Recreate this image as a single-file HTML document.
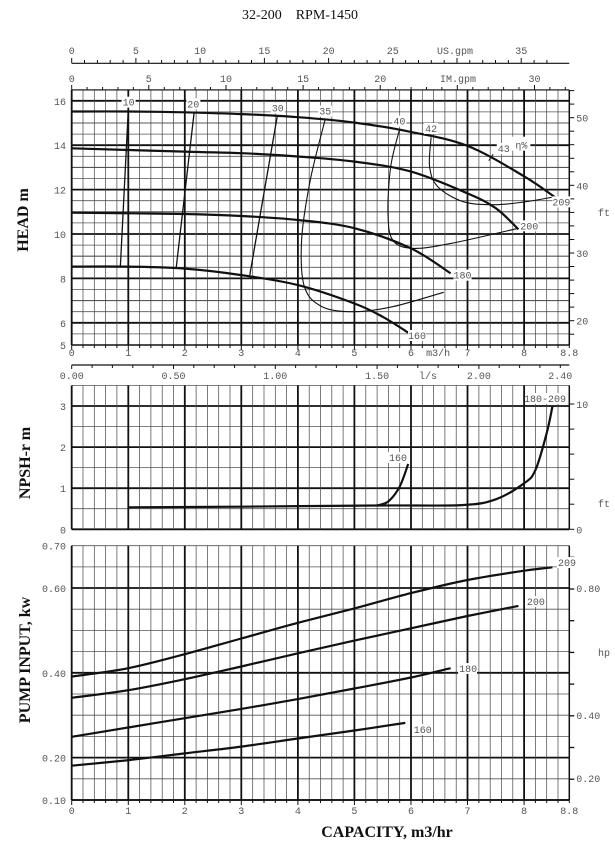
<!DOCTYPE html>
<html><head><meta charset="utf-8"><style>
html,body{margin:0;padding:0;background:#fff;}
svg{display:block;}
.t{font-family:"Liberation Mono",monospace;font-size:10px;fill:#555;}
.b{font-family:"Liberation Serif",serif;font-weight:bold;fill:#111;}
</style></head><body>
<svg id="s" width="615" height="852" viewBox="0 0 615 852" xmlns="http://www.w3.org/2000/svg">
<text x="300" y="19" text-anchor="middle" font-family="Liberation Serif,serif" font-size="14" fill="#111">32-200&#160;&#160;&#160;&#160;RPM-1450</text>
<text class="b" font-size="16" transform="translate(28,220) rotate(-90)" text-anchor="middle">HEAD m</text>
<text class="b" font-size="16" transform="translate(30,463) rotate(-90)" text-anchor="middle">NPSH-r m</text>
<text class="b" font-size="16" transform="translate(30,660) rotate(-90)" text-anchor="middle">PUMP INPUT, kw</text>
<text class="b" font-size="16" x="387" y="837" text-anchor="middle" font-weight="bold">CAPACITY, m3/hr</text>
<g id="g"></g>
</svg>
<script>
var G=document.getElementById('g'),h='';
var X0=71.7,XK=56.55,XR=569.3;
function X(q){return X0+XK*q;}
function YH(v){return 345-(v-5)*22.2;}
function YN(v){return 529.3-v*41.1;}
function YP(v){return 800-(v-0.1)*423.9;}
function L(x1,y1,x2,y2,w,c){h+='<line x1="'+x1.toFixed(1)+'" y1="'+y1.toFixed(1)+'" x2="'+x2.toFixed(1)+'" y2="'+y2.toFixed(1)+'" stroke="'+(c||'#111')+'" stroke-width="'+w+'"/>';}
function T(x,y,s,a,cl){h+='<text class="'+(cl||'t')+'" x="'+x.toFixed(1)+'" y="'+y.toFixed(1)+'" text-anchor="'+(a||'middle')+'">'+s+'</text>';}
function P(pts,w,fx,fy){var d='';var p=pts.map(function(a){return [fx?X(a[0]):a[0],fy?fy(a[1]):a[1]];});
 d='M'+p[0][0].toFixed(1)+','+p[0][1].toFixed(1);
 for(var i=0;i<p.length-1;i++){var p0=p[i-1]||p[i],p1=p[i],p2=p[i+1],p3=p[i+2]||p2;
  d+=' C'+(p1[0]+(p2[0]-p0[0])/6).toFixed(1)+','+(p1[1]+(p2[1]-p0[1])/6).toFixed(1)+' '+(p2[0]-(p3[0]-p1[0])/6).toFixed(1)+','+(p2[1]-(p3[1]-p1[1])/6).toFixed(1)+' '+p2[0].toFixed(1)+','+p2[1].toFixed(1);}
 h+='<path d="'+d+'" fill="none" stroke="#111" stroke-width="'+w+'"/>';}
function vgrid(yt,yb){for(var i=0;i<=44;i++){var q=i*0.2;var maj=i%5==0;L(X(q),yt,X(q),yb,maj?1.8:0.7,maj?'#111':'#444');}}
function ZX(zx){return 71.7+(zx-182)*0.3924;} function ZY(zy){return 40+zy/3;}
function Z(arr){return arr.map(function(a){return [ZX(a[0]),ZY(a[1])];});}
// ---- top axes
L(X0,63.3,XR,63.3,1.2);
for(var g=0;g<=37;g++){var x=X(g/4.403);L(x,63.3,x,g%5==0?58:60,1);if(g%5==0&&g<=35&&g!=30)T(x,54,g);}
T(455,54,'US.gpm');
for(var g=0;g<=32;g++){var x=X(g/3.666);L(x,90,x,g%5==0?85:87,1);if(g%5==0&&g!=25)T(x,82,g);}
T(458,82,'IM.gpm');
// ---- head panel
for(var v=5;v<=16.5;v+=0.5){var maj=(v%2==0);var mid=(v%1==0);L(X0,YH(v),XR,YH(v),maj?1.8:(mid?1.1:0.8),maj?'#111':'#555');}
vgrid(90,345);
L(X0,90,X0,345,1.5);L(XR,90,XR,345,1.5);L(X0,345,XR,345,1.5);L(X0,90,XR,90,1);
[5,6,8,10,12,14,16].forEach(function(v){T(66,YH(v)+4,v,'end');});
for(var f=16;f<=54;f+=2){var y=345-(f*0.3048-5)*22.2;if(y>=90&&y<=345){L(XR,y,XR+5,y,1);if(f%10==0)T(XR+7,y+4,f,'start');}}
T(598,216,'ft','start');
for(var i=0;i<=44;i++){L(X(i*0.2),345,X(i*0.2),i%5==0?350:348,1);}
[0,1,2,3,4,5,6,7,8].forEach(function(v){T(X(v),356,v);});T(X(8.8),356,'8.8');T(X(6.48),356,'m3/h');
P([[0,15.52],[1,15.52],[2,15.48],[3,15.4],[4,15.26],[5,15.02],[6,14.6],[7,13.97],[8,12.6],[8.55,11.65]],2.2,1,YH);
P([[0,13.86],[2,13.71],[3,13.64],[4,13.49],[5,13.26],[6,12.81],[7,11.83],[7.5,11.16],[7.9,10.21]],2.2,1,YH);
P([[0,10.96],[2,10.9],[3,10.81],[4,10.63],[5,10.26],[6,9.35],[6.7,8.23]],2.2,1,YH);
P([[0,8.53],[1,8.53],[2,8.44],[3,8.15],[4,7.7],[5,6.87],[5.5,6.27],[5.95,5.56]],2.2,1,YH);
P(Z([[326,215],[306,678]]),1.3);
P(Z([[494,218],[448,686]]),1.3);
P(Z([[706,228],[636,705]]),1.3);
P(Z([[828,238],[790,420],[768,600],[775,740],[820,800],[900,815],[1000,800],[1130,757]]),1.1);
P(Z([[1017,270],[995,380],[988,520],[1000,600],[1050,625],[1150,610],[1320,565]]),1.1);
P(Z([[1098,292],[1094,380],[1115,440],[1180,485],[1260,494],[1340,485],[1405,472]]),1.1);
P(Z([[1245,362],[1256,343]]),1.1);
h+='<rect x="'+ZX(1300).toFixed(1)+'" y="'+ZY(290).toFixed(1)+'" width="20" height="14" fill="#fff"/>';
T(ZX(1328),ZY(325),'η%');
[[327,197,'10'],[492,202,'20'],[707,214,'30'],[828,224,'35'],[1017,254,'40'],[1098,276,'42'],[1283,336,'43']].forEach(function(a){h+='<rect x="'+(ZX(a[0])-7)+'" y="'+(ZY(a[1])-9)+'" width="14" height="11" fill="#fff"/>';T(ZX(a[0]),ZY(a[1]),a[2]);});
[[1430,496,'209'],[1348,568,'200'],[1178,716,'180'],[1062,897,'160']].forEach(function(a){h+='<rect x="'+(ZX(a[0])-9)+'" y="'+(ZY(a[1])-9)+'" width="18" height="11" fill="#fff"/>';T(ZX(a[0]),ZY(a[1]),a[2]);});
// ---- l/s axis
L(X0,365,XR,365,1.2);
for(var i=0;i<=24;i++){var x=X(i*0.1*3.6);L(x,365,x,i%5==0?369:368,1);}
[[0,'0.00'],[0.5,'0.50'],[1,'1.00'],[1.5,'1.50'],[2,'2.00'],[2.4,'2.40']].forEach(function(a){T(X(a[0]*3.6),379,a[1]);});
T(X(1.75*3.6),379,'l/s');
// ---- NPSH
for(var v=0;v<=3.5;v+=0.5){var maj=(v%1==0);L(X0,YN(v),XR,YN(v),maj?1.8:0.8,maj?'#111':'#555');}
vgrid(385.5,529.3);
L(X0,385.5,X0,529.3,1.5);L(XR,385.5,XR,529.3,1.5);
[0,1,2,3].forEach(function(v){T(66,YN(v)+4,v,'end');});
for(var f=0;f<=10;f+=2){var y=YN(f*0.3048);L(XR,y,XR+5,y,1);}
T(XR+7,YN(0)+4,'0','start');T(XR+7,YN(3.048)+4,'10','start');T(598,507,'ft','start');
P([[1,0.535],[3,0.55],[5.4,0.58],[6.9,0.59],[7.5,0.73],[8,1.12],[8.2,1.44],[8.4,2.34],[8.5,2.98]],2.2,1,YN);
P([[5.4,0.58],[5.6,0.68],[5.8,1.04],[5.95,1.59]],2.2,1,YN);
h+='<rect x="388" y="452" width="20" height="11" fill="#fff"/>';T(398,461,'160');
h+='<rect x="526" y="393" width="40" height="11" fill="#fff"/>';T(545,402,'180-209');
// ---- power
for(var i=0;i<=12;i++){var v=0.1+i*0.05;var maj=(i==0||i==2||i==6||i==10);L(X0,YP(v),XR,YP(v),maj?1.8:0.8,maj?'#111':'#555');}
vgrid(545.7,800);
L(X0,545.7,X0,800,1.5);L(XR,545.7,XR,800,1.5);L(X0,800,XR,800,1.5);
[[0.7,'0.70'],[0.6,'0.60'],[0.4,'0.40'],[0.2,'0.20'],[0.1,'0.10']].forEach(function(a){T(66,YP(a[0])+4,a[1],'end');});
for(var k=2;k<=9;k++){var y=589+(0.8-k/10)*317;L(XR,y,XR+5,y,1.3);}
T(XR+7,592,'0.80','start');T(XR+7,719,'0.40','start');T(XR+7,782,'0.20','start');T(598,656,'hp','start');
for(var i=0;i<=44;i++){L(X(i*0.2),800,X(i*0.2),i%5==0?805:803,1);}
[0,1,2,3,4,5,6,7,8].forEach(function(v){T(X(v),814,v);});T(X(8.8),814,'8.8');
P([[0,0.391],[1,0.411],[2,0.444],[3,0.481],[4,0.518],[5,0.552],[6,0.588],[7,0.619],[8,0.641],[8.5,0.649]],2.2,1,YP);
P([[0,0.341],[1,0.359],[2,0.385],[3,0.415],[4,0.446],[5,0.476],[6,0.505],[7,0.534],[7.9,0.558]],2.2,1,YP);
P([[0,0.249],[1,0.271],[2,0.293],[3,0.315],[4,0.338],[5,0.363],[6,0.389],[6.7,0.411]],2.2,1,YP);
P([[0,0.181],[1,0.194],[2,0.21],[3,0.226],[4,0.245],[5,0.264],[5.9,0.282]],2.2,1,YP);
[[X(8.6),566,'209'],[X(8.05),605,'200'],[X(6.85),672,'180'],[X(6.05),733,'160']].forEach(function(a){h+='<rect x="'+(a[0]-1)+'" y="'+(a[1]-9)+'" width="19" height="11" fill="#fff"/>';T(a[0],a[1],a[2],'start');});
G.innerHTML=h;
</script>
</body></html>
